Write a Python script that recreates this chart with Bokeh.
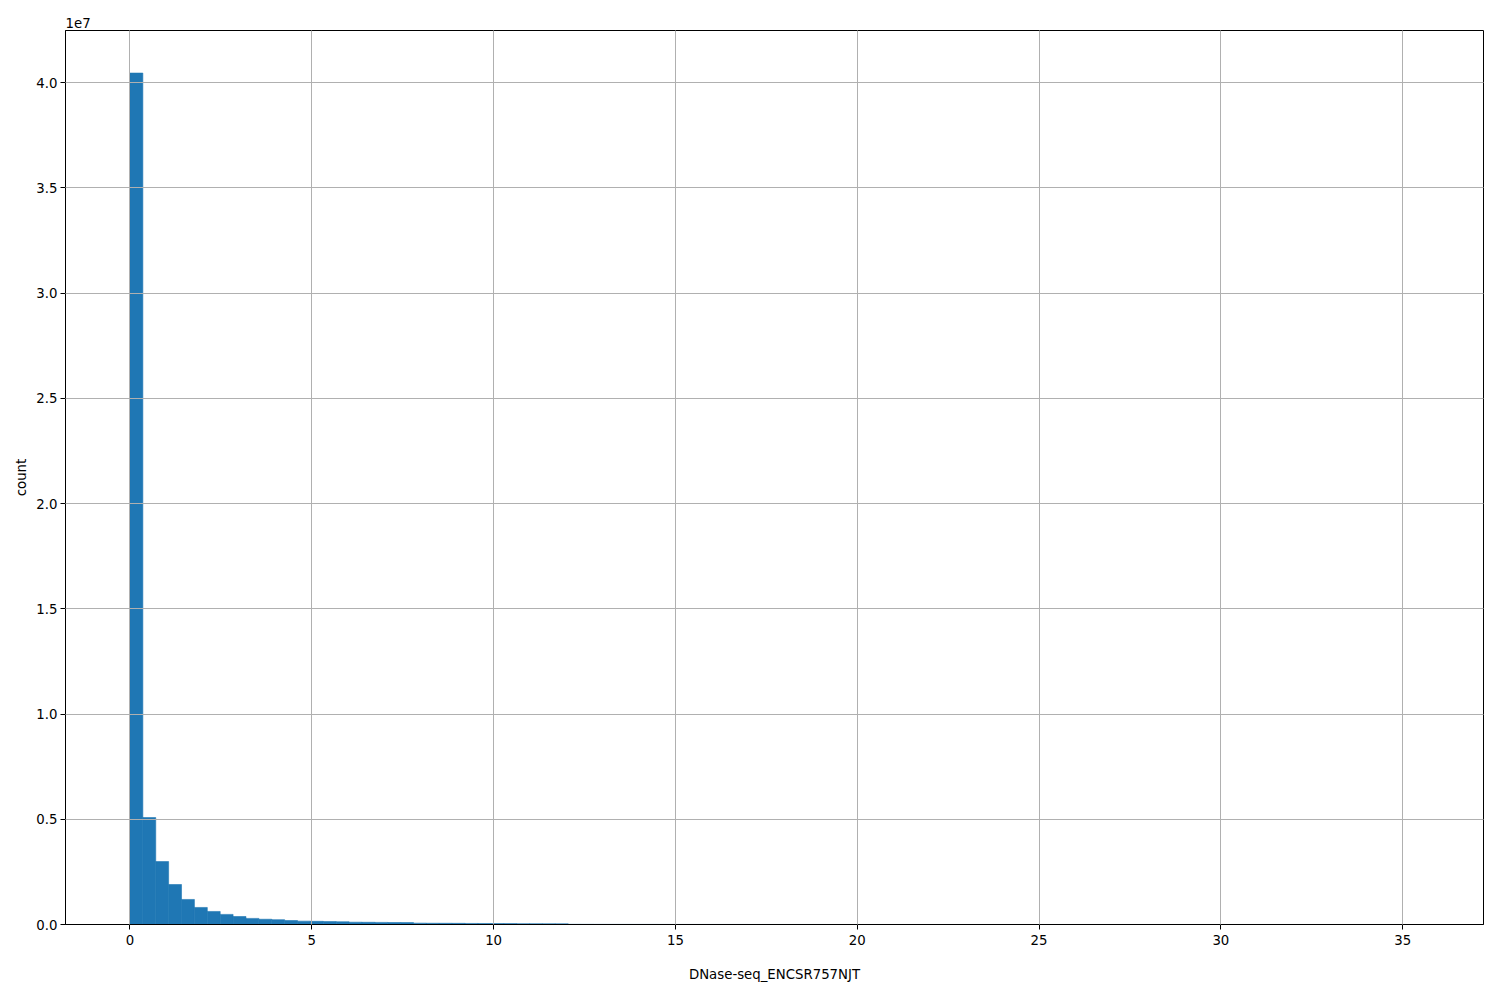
from bokeh.plotting import figure
from bokeh.models import Range1d, FixedTicker, CustomJSTickFormatter, ColumnDataSource
from bokeh.embed import file_html
from bokeh.resources import INLINE
import numpy as np

# ---- data ----
bin_min = 0.0
bin_max = 35.45
counts = [
    40450000, 5080000, 2990000, 1900000, 1190000, 810000, 620000, 480000, 380000, 290000,
    250000, 230000, 190000, 160000, 150000, 140000, 130000, 110000, 105000, 100000,
    95000, 90000, 65000, 60000, 58000, 55000, 50000, 48000, 45000, 42000,
    40000, 38000, 35000, 33000,
    9000, 7500, 6500, 5600, 4900, 4300, 3800, 3300, 2900, 2600, 2300, 2000, 1800, 1600,
    1400, 1250, 1100, 980, 870, 770, 690, 610, 540, 480, 430, 380, 340, 300, 270, 240,
    210, 190, 170, 150, 130, 120, 105, 95, 85, 75, 66, 58, 52, 46, 41, 36, 32, 28, 25,
    22, 19, 17, 15, 13, 11, 10, 9, 8, 7, 6, 5, 4, 3, 3, 2, 1,
]
x_ticks = [0, 5, 10, 15, 20, 25, 30, 35]
y_ticks = [0, 5e6, 1e7, 1.5e7, 2e7, 2.5e7, 3e7, 3.5e7, 4e7]
x_label = "DNase-seq_ENCSR757NJT"
y_label = "count"
y_scale_text = "1e7"

edges = np.linspace(bin_min, bin_max, len(counts) + 1)
src = ColumnDataSource(dict(left=edges[:-1], right=edges[1:], top=counts, bottom=[0] * len(counts)))

span = bin_max - bin_min
FONT = "DejaVu Sans"

p = figure(width=1484, height=984, output_backend="svg", toolbar_location=None,
           x_range=Range1d(bin_min - 0.05 * span, bin_max + 0.05 * span),
           y_range=Range1d(0, max(counts) * 1.05),
           min_border_left=65, min_border_right=1, min_border_top=30, min_border_bottom=59,
           title=y_scale_text)
p.quad(left="left", right="right", top="top", bottom="bottom", source=src,
       fill_color="#1f77b4", line_color="#1f77b4", line_width=0.6)

p.title.text_font = FONT
p.title.text_font_size = "13.3px"
p.title.text_font_style = "normal"
p.title.text_color = "black"
p.title.align = "left"
p.title.offset = 0
p.title.standoff = 5

p.outline_line_color = "black"
p.outline_line_width = 1
p.background_fill_color = "white"
p.border_fill_color = "white"

for g in (p.xgrid, p.ygrid):
    g.grid_line_color = "#b0b0b0"
    g.grid_line_width = 1
    g.level = "overlay"

p.xaxis.ticker = FixedTicker(ticks=x_ticks)
p.yaxis.ticker = FixedTicker(ticks=y_ticks)
p.yaxis.formatter = CustomJSTickFormatter(code="return (tick/1e7).toFixed(1);")
p.xaxis.formatter = CustomJSTickFormatter(code="return tick.toFixed(0);")

for ax in (p.xaxis, p.yaxis):
    ax.axis_line_color = "black"
    ax.major_tick_line_color = "black"
    ax.major_tick_out = 5
    ax.major_tick_in = 0
    ax.minor_tick_out = 0
    ax.minor_tick_in = 0
    ax.major_label_text_font = FONT
    ax.major_label_text_font_size = "13.3px"
    ax.major_label_text_color = "black"
    ax.axis_label_text_font = FONT
    ax.axis_label_text_font_size = "13.3px"
    ax.axis_label_text_font_style = "normal"
    ax.axis_label_text_color = "black"

p.xaxis.major_label_standoff = 5
p.yaxis.major_label_standoff = 3
p.xaxis.axis_label = x_label
p.yaxis.axis_label = y_label
p.xaxis.axis_label_standoff = 19
p.yaxis.axis_label_standoff = 4

open("out.html", "w").write(file_html(p, INLINE))
